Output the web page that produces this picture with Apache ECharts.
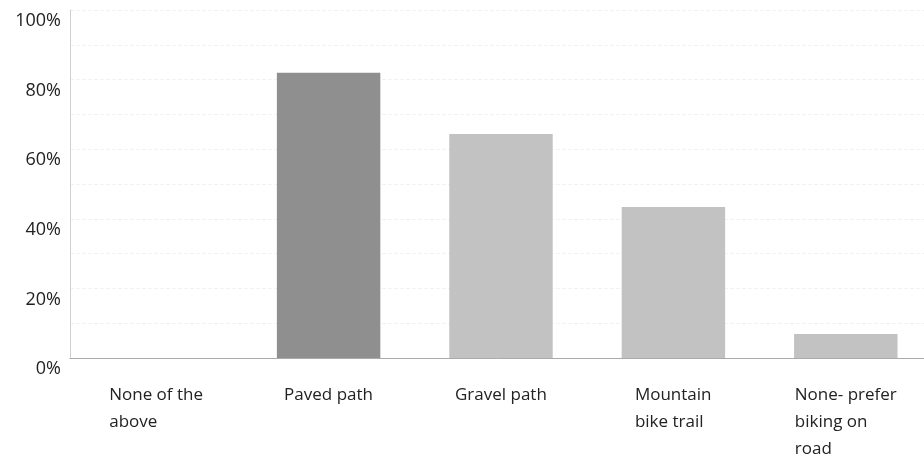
<!DOCTYPE html>
<html>
<head>
<meta charset="utf-8">
<title>Bike path preference</title>
<script src="https://cdn.jsdelivr.net/npm/echarts@6/dist/echarts.min.js"></script>
<style>
  html, body { margin: 0; padding: 0; background: #fff; }
  #chart { width: 924px; height: 459px; }
</style>
</head>
<body>
<div id="chart"></div>
<script>
// Data
const categories = ['None of the\nabove', 'Paved path', 'Gravel path', 'Mountain\nbike trail', 'None- prefer\nbiking on\nroad'];
const values = [0, 82, 64.4, 43.4, 6.9];
const barColors = ['#c2c2c2', '#8f8f8f', '#c2c2c2', '#c2c2c2', '#c2c2c2'];
const yTicks = [0, 20, 40, 60, 80, 100];

const FONT = '"Open Sans", "Noto Sans", sans-serif';
const LABEL_SIZE = 17;

// Measure each label so its lines can be left aligned inside a centred block
const ctx = document.createElement('canvas').getContext('2d');
ctx.font = LABEL_SIZE + 'px ' + FONT;
const labelRich = {};
categories.forEach((c, i) => {
  const w = Math.max(...c.split('\n').map(line => ctx.measureText(line).width));
  labelRich['l' + i] = {
    width: Math.ceil(w), align: 'left',
    fontFamily: FONT, fontSize: LABEL_SIZE, lineHeight: 27, color: '#222'
  };
});

const chart = echarts.init(document.getElementById('chart'));

chart.setOption({
  animation: false,
  backgroundColor: '#fff',
  grid: { left: 70, top: 10, width: 862, height: 348, outerBoundsMode: 'none', containLabel: false },
  xAxis: {
    type: 'category',
    data: categories,
    axisTick: { show: false },
    axisLine: { lineStyle: { color: '#aaa', width: 1 } },
    axisLabel: {
      interval: 0,
      margin: 24,
      color: '#222',
      fontFamily: FONT,
      fontSize: LABEL_SIZE,
      lineHeight: 27,
      formatter: (v, i) => v.split('\n').map(line => '{l' + i + '|' + line + '}').join('\n'),
      rich: labelRich
    }
  },
  yAxis: {
    type: 'value',
    min: 0,
    max: 100,
    interval: 10,
    axisLine: { show: true, lineStyle: { color: '#d0d0d0', width: 1 } },
    axisTick: { show: false },
    splitLine: { lineStyle: { color: '#f2f2f2', width: 1, type: 'dashed' } },
    axisLabel: {
      margin: 9,
      color: '#222',
      fontFamily: FONT,
      fontSize: 18,
      lineHeight: 22,
      verticalAlign: 'top',
      formatter: v => yTicks.includes(v) ? v + '%' : ''
    }
  },
  series: [{
    type: 'bar',
    barCategoryGap: '40%',
    data: values.map((v, i) => ({ value: v, itemStyle: { color: barColors[i] } }))
  }]
});
</script>
</body>
</html>
